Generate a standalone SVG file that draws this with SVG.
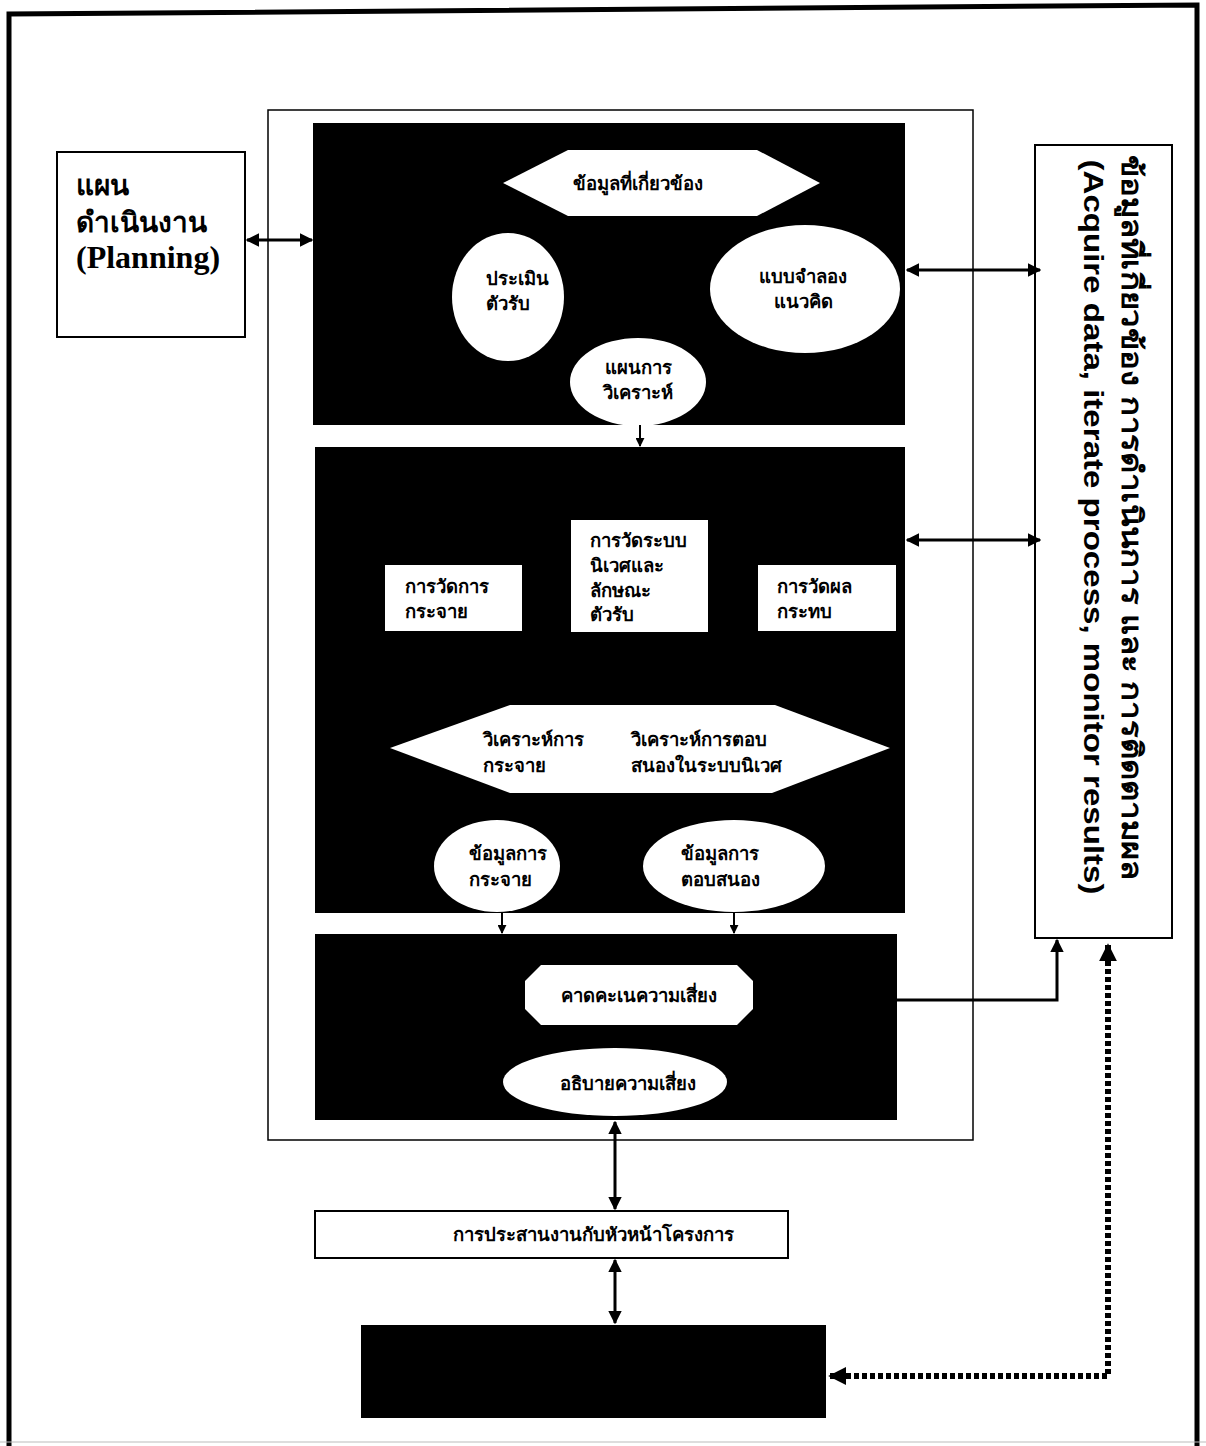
<svg xmlns="http://www.w3.org/2000/svg" width="1206" height="1446" viewBox="0 0 1206 1446">
<style>
.th{font-family:"Liberation Sans","Noto Sans",sans-serif;font-weight:bold;font-size:18.5px;fill:#000}
.panel{fill:#000}
.wf{fill:#fff}
.ln{stroke:#000;stroke-width:3;fill:none}
.frame{fill:none;stroke:#000;stroke-width:1.5}
.big{font-family:"Liberation Sans","Noto Sans",sans-serif;font-weight:bold;font-size:28px;fill:#000}
</style>
<defs>
<marker id="ah" viewBox="0 0 10 10" refX="9" refY="5" markerWidth="4.5" markerHeight="4.5" orient="auto-start-reverse" markerUnits="strokeWidth">
<path d="M0,0 L10,5 L0,10 z" fill="#000"/>
</marker>
<marker id="ahd" viewBox="0 0 10 10" refX="9" refY="5" markerWidth="3" markerHeight="3" orient="auto-start-reverse" markerUnits="strokeWidth">
<path d="M0,0 L10,5 L0,10 z" fill="#000"/>
</marker>
</defs>
<rect width="1206" height="1446" fill="#fff"/>
<g id="border">
<path d="M9,1446 L9,14 L1197,5 L1197,1446" fill="none" stroke="#000" stroke-width="5"/>
<line x1="0" y1="1442" x2="1206" y2="1442" stroke="#bbb" stroke-width="1"/>
</g>
<g id="outer-frame"><rect class="frame" x="268" y="110" width="705" height="1030"/></g>
<g id="planning">
<rect x="57" y="152" width="188" height="185" fill="#fff" stroke="#000" stroke-width="2"/>
<text class="big" x="76" y="195" font-size="30">แผน</text>
<text class="big" x="76" y="232" font-size="30">ดำเนินงาน</text>
<text x="76" y="268" font-family="Liberation Serif,serif" font-weight="bold" font-size="32">(Planning)</text>
</g>
<g id="panel-top">
<rect class="panel" x="313" y="123" width="592" height="302"/>
<polygon class="wf" points="503,183 568,150 757,150 820,183 757,216 568,216"/>
<text class="th" x="638" y="190" text-anchor="middle" font-size="21">ข้อมูลที่เกี่ยวข้อง</text>
<ellipse class="wf" cx="508" cy="297" rx="56" ry="64"/>
<text class="th" x="486" y="285">ประเมิน</text>
<text class="th" x="486" y="310">ตัวรับ</text>
<ellipse class="wf" cx="805" cy="289" rx="95" ry="64"/>
<text class="th" x="803" y="283" text-anchor="middle">แบบจำลอง</text>
<text class="th" x="803" y="308" text-anchor="middle">แนวคิด</text>
<ellipse class="wf" cx="638" cy="382" rx="68" ry="44"/>
<text class="th" x="638" y="374" text-anchor="middle">แผนการ</text>
<text class="th" x="638" y="399" text-anchor="middle">วิเคราะห์</text>
</g>
<g id="panel-middle">
<rect class="panel" x="315" y="447" width="590" height="466"/>
<rect class="wf" x="385" y="565" width="137" height="66"/>
<text class="th" x="405" y="593">การวัดการ</text>
<text class="th" x="405" y="618">กระจาย</text>
<rect class="wf" x="571" y="520" width="137" height="112"/>
<text class="th" x="590" y="547">การวัดระบบ</text>
<text class="th" x="590" y="572">นิเวศและ</text>
<text class="th" x="590" y="597">ลักษณะ</text>
<text class="th" x="590" y="621">ตัวรับ</text>
<rect class="wf" x="758" y="565" width="138" height="66"/>
<text class="th" x="777" y="593">การวัดผล</text>
<text class="th" x="777" y="618">กระทบ</text>
<polygon class="wf" points="390,748 510,705 775,705 890,748 772,793 510,793"/>
<text class="th" x="483" y="746">วิเคราะห์การ</text>
<text class="th" x="483" y="772">กระจาย</text>
<text class="th" x="631" y="746">วิเคราะห์การตอบ</text>
<text class="th" x="631" y="772">สนองในระบบนิเวศ</text>
<ellipse class="wf" cx="497" cy="866" rx="63" ry="46"/>
<text class="th" x="469" y="860">ข้อมูลการ</text>
<text class="th" x="469" y="886">กระจาย</text>
<ellipse class="wf" cx="734" cy="866" rx="91" ry="46"/>
<text class="th" x="681" y="860">ข้อมูลการ</text>
<text class="th" x="681" y="886">ตอบสนอง</text>
</g>
<g id="panel-bottom">
<rect class="panel" x="315" y="934" width="582" height="186"/>
<polygon class="wf" points="541,965 737,965 753,981 753,1009 737,1025 541,1025 525,1009 525,981"/>
<text class="th" x="639" y="1002" text-anchor="middle" font-size="21.5">คาดคะเนความเสี่ยง</text>
<ellipse class="wf" cx="615" cy="1082" rx="112" ry="34"/>
<text class="th" x="628" y="1090" text-anchor="middle" font-size="20.5">อธิบายความเสี่ยง</text>
</g>
<g id="acquire">
<rect x="1035" y="145" width="137" height="793" fill="#fff" stroke="#000" stroke-width="2"/>
<text class="big" transform="translate(1122,517) rotate(90)" text-anchor="middle" textLength="725" lengthAdjust="spacingAndGlyphs">ข้อมูลที่เกี่ยวข้อง การดำเนินการ และ การติดตามผล</text>
<text class="big" transform="translate(1084,527) rotate(90)" text-anchor="middle" textLength="735" lengthAdjust="spacingAndGlyphs">(Acquire data, iterate process, monitor results)</text>
</g>
<g id="coordination">
<rect x="315" y="1211" width="473" height="47" fill="#fff" stroke="#000" stroke-width="2"/>
<text class="th" x="593" y="1241" text-anchor="middle" font-size="18">การประสานงานกับหัวหน้าโครงการ</text>
</g>
<g id="project-box"><rect class="panel" x="361" y="1325" width="465" height="93"/></g>
<g id="connectors">
<line class="ln" x1="247" y1="240" x2="312" y2="240" marker-start="url(#ah)" marker-end="url(#ah)"/>
<line class="ln" x1="907" y1="270" x2="1040" y2="270" marker-start="url(#ah)" marker-end="url(#ah)"/>
<line class="ln" x1="907" y1="540" x2="1040" y2="540" marker-start="url(#ah)" marker-end="url(#ah)"/>
<line x1="640" y1="425" x2="640" y2="446" stroke="#000" stroke-width="2" marker-end="url(#ah)"/>
<line x1="502" y1="913" x2="502" y2="933" stroke="#000" stroke-width="2" marker-end="url(#ah)"/>
<line x1="734" y1="913" x2="734" y2="933" stroke="#000" stroke-width="2" marker-end="url(#ah)"/>
<polyline class="ln" points="897,1000 1057,1000 1057,940" marker-end="url(#ah)"/>
<line class="ln" x1="615" y1="1122" x2="615" y2="1209" marker-start="url(#ah)" marker-end="url(#ah)"/>
<line class="ln" x1="615" y1="1260" x2="615" y2="1323" marker-start="url(#ah)" marker-end="url(#ah)"/>
<polyline points="1108,945 1108,1376 830,1376" fill="none" stroke="#000" stroke-width="6" stroke-dasharray="5 3" marker-start="url(#ahd)" marker-end="url(#ahd)"/>
</g>
</svg>
